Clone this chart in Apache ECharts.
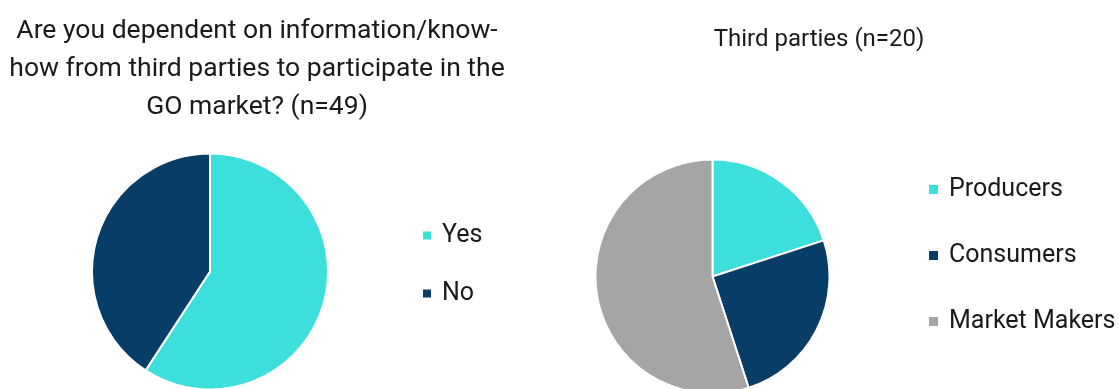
<!DOCTYPE html>
<html>
<head>
<meta charset="utf-8">
<script src="https://cdn.jsdelivr.net/npm/echarts@6/dist/echarts.min.js"></script>
<style>
  html, body { margin: 0; padding: 0; background: #ffffff; }
  #chart { width: 1119px; height: 389px; }
</style>
</head>
<body>
<div id="chart"></div>
<script>
// Survey answers: dependence on third-party know-how (n=49)
const dependCategories = ['Yes', 'No'];
const dependValues = [29, 20];

// Breakdown of the third parties relied upon (n=20)
const partyCategories = ['Producers', 'Consumers', 'Market Makers'];
const partyValues = [4, 5, 11];

const leftTitle = 'Are you dependent on information/know-\nhow from third parties to participate in the\nGO market? (n=49)';
const rightTitle = 'Third parties (n=20)';

const CYAN = '#3cdfdc';
const NAVY = '#073d66';
const GREY = '#a5a5a5';
const FONT = 'Roboto, "Liberation Sans", sans-serif';
const TEXT = '#1a1a1a';

const chart = echarts.init(document.getElementById('chart'), null, { renderer: 'canvas' });

function toData(cats, vals, colors) {
  return cats.map((c, i) => ({ name: c, value: vals[i], itemStyle: { color: colors[i] } }));
}

const legendText = { fontFamily: FONT, fontSize: 25, color: TEXT, padding: [0, 0, 0, 5] };

chart.setOption({
  backgroundColor: '#ffffff',
  animation: false,
  title: [
    {
      text: leftTitle, left: 257, top: 12, padding: 0, textAlign: 'center',
      textStyle: { fontFamily: FONT, fontSize: 26.5, fontWeight: 'normal', color: TEXT, lineHeight: 38 }
    },
    {
      text: rightTitle, left: 819, top: 21, padding: 0, textAlign: 'center',
      textStyle: { fontFamily: FONT, fontSize: 24, fontWeight: 'normal', color: TEXT, lineHeight: 38 }
    }
  ],
  legend: [
    {
      data: dependCategories, orient: 'vertical', left: 421, top: 223, padding: 0,
      icon: 'rect', itemWidth: 10, itemHeight: 10, itemGap: 33,
      textStyle: legendText, selectedMode: false
    },
    {
      data: partyCategories, orient: 'vertical', left: 927, top: 177, padding: 0,
      icon: 'rect', itemWidth: 11, itemHeight: 11, itemGap: 41,
      textStyle: legendText, selectedMode: false
    }
  ],
  series: [
    {
      type: 'pie', center: [210, 271.5], radius: 118, startAngle: 90, clockwise: true,
      label: { show: false }, labelLine: { show: false }, silent: true,
      itemStyle: { borderColor: '#ffffff', borderWidth: 2 },
      data: toData(dependCategories, dependValues, [CYAN, NAVY])
    },
    {
      type: 'pie', center: [712.5, 276.5], radius: 117, startAngle: 90, clockwise: true,
      label: { show: false }, labelLine: { show: false }, silent: true,
      itemStyle: { borderColor: '#ffffff', borderWidth: 2 },
      data: toData(partyCategories, partyValues, [CYAN, NAVY, GREY])
    }
  ]
});
</script>
</body>
</html>
